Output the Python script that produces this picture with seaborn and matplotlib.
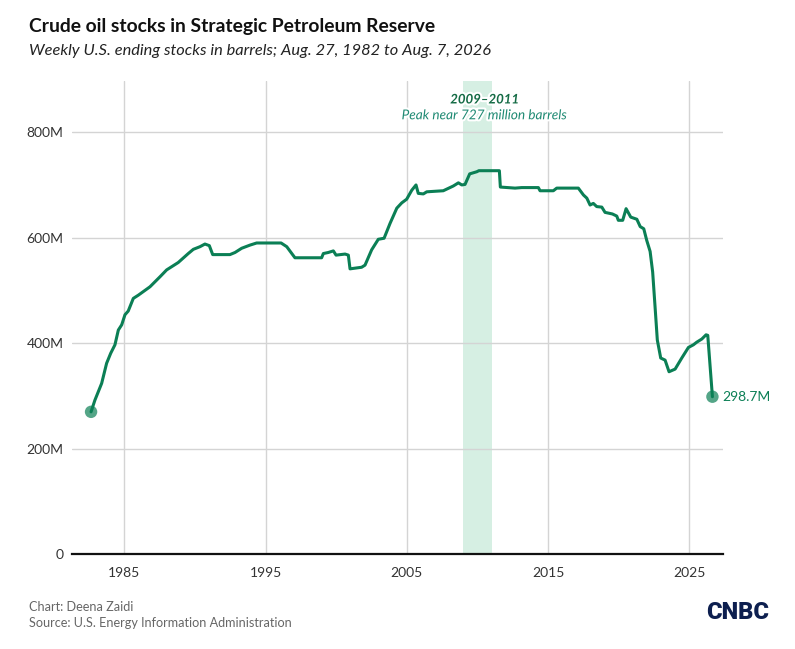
import pandas as pd
import matplotlib.pyplot as plt
import matplotlib.patheffects as pe
import seaborn as sns

# Weekly SPR ending stocks (decimal year, million barrels)
years = [1982.65, 1982.92, 1983.40, 1983.75, 1984.04, 1984.34, 1984.58, 1984.82,
         1985.05, 1985.28, 1985.64, 1985.99, 1986.82, 1987.53, 1988.00, 1988.82,
         1989.53, 1989.89, 1990.36, 1990.71, 1991.02, 1991.26, 1992.48, 1992.84,
         1993.31, 1993.90, 1994.37, 1996.10, 1996.50, 1997.08, 1998.97, 1999.09,
         1999.44, 1999.80, 1999.99, 2000.63, 2000.86, 2000.98, 2001.80, 2002.04,
         2002.51, 2002.98, 2003.39, 2003.81, 2004.29, 2004.64, 2004.99, 2005.35,
         2005.65, 2005.81, 2006.17, 2006.41, 2007.58, 2008.29, 2008.65, 2008.89,
         2009.12, 2009.45, 2009.95, 2010.10, 2011.55, 2011.62, 2012.66, 2013.13,
         2014.31, 2014.43, 2015.37, 2015.61, 2017.14, 2017.50, 2017.74, 2017.97,
         2018.20, 2018.44, 2018.80, 2019.03, 2019.55, 2019.86, 2019.97, 2020.28,
         2020.52, 2020.85, 2021.28, 2021.52, 2021.77, 2021.98, 2022.22, 2022.40,
         2022.57, 2022.73, 2022.97, 2023.28, 2023.56, 2023.99, 2024.46, 2024.93,
         2025.28, 2025.52, 2025.88, 2026.18, 2026.30, 2026.63]
stocks = [270, 292, 324, 362, 381, 397, 425, 435,
          454, 461, 485, 491, 507, 526, 539, 553,
          570, 578, 583, 588, 585, 568, 568, 572,
          580, 586, 590, 590, 583, 562, 562, 570,
          572, 575, 567, 569, 567, 541, 544, 548,
          577, 597, 599, 627, 656, 666, 673, 690,
          700, 684, 683, 687, 689, 698, 704, 700,
          701, 721, 725, 727, 727, 696, 694, 695,
          695, 689, 689, 694, 694, 681, 675, 662,
          665, 659, 658, 648, 645, 641, 633, 633,
          655, 639, 635, 621, 617, 595, 574, 535,
          469, 406, 372, 368, 346, 351, 372, 392,
          397, 402, 408, 416, 415, 298.7]

tick_years = [1985, 1995, 2005, 2015, 2025]
y_ticks = [0, 200, 400, 600, 800]
y_labels = ['0', '200M', '400M', '600M', '800M']

df = pd.DataFrame({'year': years, 'stocks': stocks})
ends = df.iloc[[0, -1]]

GREEN = '#0b7f55'
FONT = ['Lato', 'DejaVu Sans']

sns.set_style('white')
plt.rcParams['font.family'] = FONT

fig = plt.figure(figsize=(7.95, 6.49), dpi=100)
ax = fig.add_axes([0.0902, 0.1459, 0.8189, 0.7293])

# highlight band for the peak years
ax.axvspan(2009, 2011, color='#d6efe3', lw=0, zorder=0)

sns.lineplot(data=df, x='year', y='stocks', color=GREEN, lw=2.2, ax=ax, zorder=3)
sns.scatterplot(data=ends, x='year', y='stocks', color=GREEN, alpha=0.7, s=80,
                edgecolor='none', ax=ax, zorder=4)

ax.set_xlim(1981.28, 2027.36)
ax.set_ylim(0, 897)
ax.set_xticks(tick_years)
ax.set_yticks(y_ticks)
ax.set_yticklabels(y_labels)
ax.set_xlabel('')
ax.set_ylabel('')
ax.grid(True, color='#d4d4d4', lw=1)
ax.set_axisbelow(True)
ax.tick_params(length=0, labelsize=10, labelcolor='#333333')
ax.tick_params(axis='x', pad=9)
ax.tick_params(axis='y', pad=6)
for s in ['left', 'right', 'top']:
    ax.spines[s].set_visible(False)
ax.spines['bottom'].set_color('#111111')
ax.spines['bottom'].set_linewidth(1.6)
ax.spines['bottom'].set_zorder(5)

# annotations
halo = [pe.withStroke(linewidth=3, foreground='white')]
ax.text(2010.5, 862, '2009\u20132011', ha='center', va='center', fontsize=9.5,
        fontweight='bold', fontstyle='italic', color='#146b45', path_effects=halo)
ax.text(2010.5, 832, 'Peak near 727 million barrels', ha='center', va='center',
        fontsize=9.8, fontstyle='italic', color='#1f8a73', path_effects=halo)
ax.text(2027.3, stocks[-1], '298.7M', ha='left', va='center', fontsize=10,
        color=GREEN)

# titles and footer
fig.text(0.037, 0.95, 'Crude oil stocks in Strategic Petroleum Reserve',
         fontsize=13.9, fontweight='bold', color='#111111', va='baseline')
fig.text(0.037, 0.915, 'Weekly U.S. ending stocks in barrels; Aug. 27, 1982 to Aug. 7, 2026',
         fontsize=11.8, fontstyle='italic', color='#222222', va='baseline')
fig.text(0.037, 0.065, 'Chart: Deena Zaidi', fontsize=9.1, color='#666666', va='center')
fig.text(0.037, 0.04, 'Source: U.S. Energy Information Administration', fontsize=9.1,
         color='#666666', va='center')
fig.text(0.968, 0.057, 'CNBC', fontsize=17, fontweight='black', color='#0d1f4f',
         ha='right', va='center', family=['Roboto', 'DejaVu Sans'])

fig.savefig('out.png', dpi=100)
